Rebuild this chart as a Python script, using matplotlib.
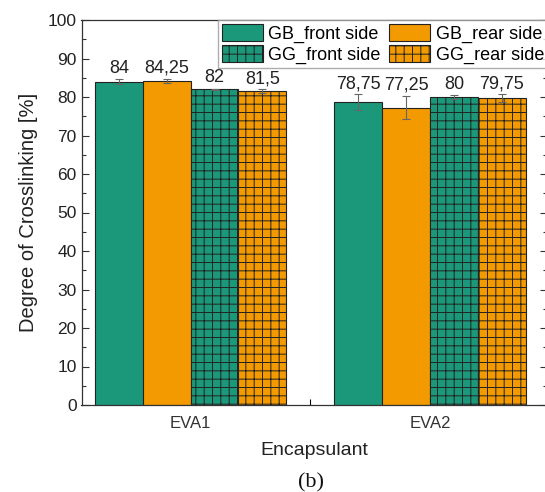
import numpy as np
import matplotlib
matplotlib.use("Agg")
import matplotlib.pyplot as plt
from matplotlib.ticker import MultipleLocator, FixedLocator

plt.rcParams['font.family'] = ['Liberation Sans', 'DejaVu Sans']
plt.rcParams['hatch.linewidth'] = 0.7
plt.rcParams['hatch.color'] = '#1a1a1a'

# Data
categories = ["EVA1", "EVA2"]
series = ["GB_front side", "GB_rear side", "GG_front side", "GG_rear side"]
values = {
    "GB_front side": [84.0, 78.75],
    "GB_rear side": [84.25, 77.25],
    "GG_front side": [82.0, 80.0],
    "GG_rear side": [81.5, 79.75],
}
errors = {
    "GB_front side": [0.7, 2.0],
    "GB_rear side": [0.5, 3.0],
    "GG_front side": [0.2, 0.6],
    "GG_rear side": [0.5, 1.0],
}
labels = {
    "GB_front side": ["84", "78,75"],
    "GB_rear side": ["84,25", "77,25"],
    "GG_front side": ["82", "80"],
    "GG_rear side": ["81,5", "79,75"],
}

green = "#1B987A"
orange = "#F39A00"
styles = {
    "GB_front side": (green, None),
    "GB_rear side": (orange, None),
    "GG_front side": (green, "++"),
    "GG_rear side": (orange, "++"),
}

fig = plt.figure(figsize=(5.45, 4.92), dpi=100)
ax = fig.add_axes([81.5 / 545, 87 / 492, 465 / 545, 385 / 492])

x = np.arange(len(categories))
width = 0.2
offsets = [-1.5, -0.5, 0.5, 1.5]

handles = {}
for s, off in zip(series, offsets):
    color, hatch = styles[s]
    bars = ax.bar(x + off * width, values[s], width, color=color, hatch=hatch,
                  edgecolor="#222222", linewidth=0.8, label=s, zorder=2)
    handles[s] = bars
    ax.errorbar(x + off * width, values[s], yerr=errors[s], fmt="none",
                ecolor="#666666", elinewidth=0.8, capsize=3, capthick=0.8, zorder=3)
    for xi, v, e, lab in zip(x + off * width, values[s], errors[s], labels[s]):
        ax.annotate(lab, (xi, v + e), xytext=(0, 1.5), textcoords="offset points",
                    ha="center", va="bottom", fontsize=13, color="#222222")

ax.set_xlim(-0.456, 1.487)
ax.set_ylim(0, 100)
ax.yaxis.set_major_locator(MultipleLocator(10))
ax.yaxis.set_minor_locator(MultipleLocator(5))
ax.set_xticks(x)
ax.set_xticklabels(categories)
ax.xaxis.set_minor_locator(FixedLocator([0.5]))

ax.tick_params(axis="y", which="both", direction="in", right=True, labelsize=12.5,
               colors="#333333", labelcolor="#222222")
ax.tick_params(axis="y", which="major", length=5, width=0.8)
ax.tick_params(axis="y", which="minor", length=3, width=0.8)
ax.tick_params(axis="x", which="major", length=0, labelsize=12, pad=8, labelcolor="#333333")
ax.tick_params(axis="x", which="minor", direction="in", length=4, width=0.8)

for sp in ax.spines.values():
    sp.set_color("#333333")
    sp.set_linewidth(0.9)
ax.spines["right"].set_visible(False)

ax.set_ylabel("Degree of Crosslinking [%]", fontsize=14.5, color="#222222", labelpad=7)
ax.set_xlabel("Encapsulant", fontsize=14, color="#222222", labelpad=8)

order = ["GB_front side", "GG_front side", "GB_rear side", "GG_rear side"]
leg = ax.legend([handles[s] for s in order], order,
                ncol=2, loc="upper right", bbox_to_anchor=(1.003, 1.0), borderaxespad=0.0,
                fontsize=13, frameon=True, fancybox=False, handlelength=2.3, handleheight=1.05,
                columnspacing=0.45, handletextpad=0.28, labelspacing=0.14, borderpad=0.22)
leg.get_frame().set_edgecolor("#999999")
leg.get_frame().set_linewidth(1.0)

fig.text(311 / 545, 1 - 483 / 492, "(b)", ha="center", va="center",
         fontsize=16, family="Liberation Serif", color="#111111")

fig.savefig("out.png", dpi=100)
